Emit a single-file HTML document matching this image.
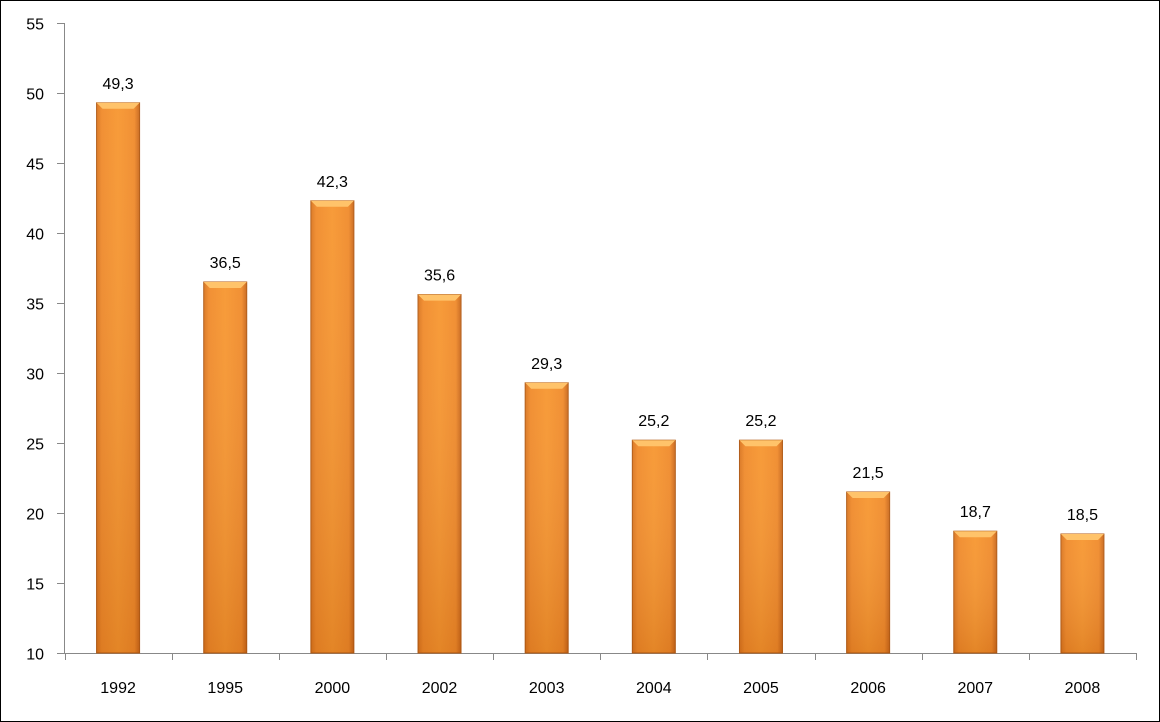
<!DOCTYPE html>
<html><head><meta charset="utf-8"><style>
html,body{margin:0;padding:0;background:#fff}
svg{display:block}
text{font-family:"Liberation Sans",sans-serif;font-size:16px;fill:#000}
</style></head><body>
<svg id="chart" width="1160" height="722" viewBox="0 0 1160 722" xmlns="http://www.w3.org/2000/svg">
<defs>
<linearGradient id="bg" x1="0" y1="0" x2="1" y2="0">
<stop offset="0" stop-color="#d9741e"/><stop offset="0.12" stop-color="#f08a2a"/>
<stop offset="0.5" stop-color="#f7962f"/><stop offset="0.88" stop-color="#f08a2a"/><stop offset="1" stop-color="#c8661a"/>
</linearGradient>
<linearGradient id="vg" x1="0" y1="0" x2="0" y2="1">
<stop offset="0" stop-color="#fff" stop-opacity="0.05"/><stop offset="1" stop-color="#8a3a00" stop-opacity="0.18"/>
</linearGradient>
</defs>
<rect x="0.5" y="0.5" width="1159" height="721" fill="#fff" stroke="#000"/>
<g id="axes"></g>
<g id="bars"></g>
</svg>
<script>
const categories=["1992","1995","2000","2002","2003","2004","2005","2006","2007","2008"];
const values=[49.3,36.5,42.3,35.6,29.3,25.2,25.2,21.5,18.7,18.5];
const valueLabels=["49,3","36,5","42,3","35,6","29,3","25,2","25,2","21,5","18,7","18,5"];
const yTicks=[10,15,20,25,30,35,40,45,50,55];
const NS="http://www.w3.org/2000/svg";
const x0=64.5,x1=1136,yMin=10,yMax=55,yTop=23,yBot=653;
function y(v){return yBot-(v-yMin)/(yMax-yMin)*(yBot-yTop);}
const band=(x1-x0)/categories.length;
function xc(i){return x0+band*(i+0.5);}
function mk(tag,attrs,parent){const e=document.createElementNS(NS,tag);for(const k in attrs)e.setAttribute(k,attrs[k]);parent.appendChild(e);return e;}
const axes=document.getElementById('axes'),bars=document.getElementById('bars');
let ya=mk('line',{x1:x0,y1:yTop,x2:x0,y2:yBot,stroke:'#888'},axes);


let xa=mk('line',{x1:x0,y1:yBot+0.5,x2:x1,y2:yBot+0.5,stroke:'#888'},axes);


yTicks.forEach(t=>{
  const yy=Math.round(y(t))+0.5;
  mk('line',{x1:57,y1:yy,x2:x0,y2:yy,stroke:'#888'},axes);
  const tx=mk('text',{x:44,y:yy+6,'text-anchor':'end'},axes);tx.textContent=t;
  
  
});
for(let i=0;i<=categories.length;i++){
  const xx=Math.round(x0+band*i)+0.5;
  mk('line',{x1:xx,y1:yBot,x2:xx,y2:yBot+7,stroke:'#888'},axes);
}
categories.forEach((c,i)=>{
  const tx=mk('text',{x:xc(i),y:693,'text-anchor':'middle'},axes);tx.textContent=c;
  
  
  const w=43,bx=xc(i)-w/2,by=y(values[i]),h=yBot-by;
  const g=mk('g',{},bars);
  
  
  mk('rect',{x:bx,y:by,width:w,height:h,fill:'url(#bg)',stroke:'#b05a15','stroke-width':1},g);
  mk('rect',{x:bx,y:by,width:w,height:h,fill:'url(#vg)'},g);
  mk('polygon',{points:`${bx},${by} ${bx+w},${by} ${bx+w-6},${by+6} ${bx+6},${by+6}`,fill:'#ffc36a'},g);
  const vl=mk('text',{x:xc(i),y:by-14,'text-anchor':'middle'},bars);vl.textContent=valueLabels[i];
  
  
});
</script>
</body></html>
